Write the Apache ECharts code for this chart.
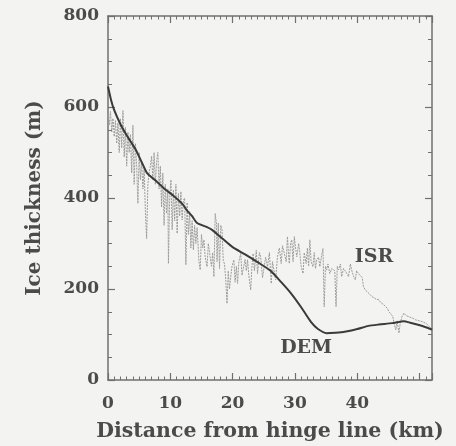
<!DOCTYPE html>
<html>
<head>
<meta charset="utf-8">
<script src="https://cdn.jsdelivr.net/npm/echarts@6/dist/echarts.min.js"></script>
<style>
  html, body { margin: 0; padding: 0; background: #f3f3f1; }
  #chart { width: 456px; height: 446px; }
</style>
</head>
<body>
<div id="chart"></div>
<script>
// Ice thickness profile along the flow line, measured from the hinge line.
const xTickValues = [0, 10, 20, 30, 40, 50];
const yTickValues = [0, 200, 400, 600, 800];

// Thickness derived from the digital elevation model [km, m]
const demProfile = [
  [0, 645], [0.5, 615], [1, 593], [2, 562], [2.9, 540], [3.5, 527], [4.5, 505],
  [5.5, 476], [6.2, 456], [6.6, 450], [7.5, 440], [9, 421], [10.5, 405],
  [12, 386], [12.6, 374], [13.5, 360], [14.3, 345], [15.9, 336], [16.7, 330],
  [17.5, 321], [18.6, 308], [20, 292], [22, 276], [24, 259], [26.1, 240],
  [27.8, 215], [29.4, 190], [31, 160], [32.6, 127], [33.7, 112], [35.1, 103],
  [36.5, 104], [38, 106], [40, 112], [41.8, 119], [43.5, 122], [45.6, 125],
  [47.5, 129], [48.5, 126], [49.9, 121], [51, 116], [52, 111]
];

// Thickness from ice-sounding radar [km, m]
const isrProfile = [
  [0.0, 585], [0.2, 560], [0.4, 590], [0.6, 545], [0.8, 575], [1.0, 535], [1.2, 570],
  [1.4, 520], [1.6, 565], [1.8, 500], [2.0, 575], [2.2, 510], [2.4, 592], [2.6, 490],
  [2.8, 555], [3.0, 470], [3.2, 545], [3.4, 500], [3.6, 540], [3.8, 455], [4.0, 560],
  [4.2, 430], [4.4, 520], [4.6, 470], [4.8, 388], [5.0, 500], [5.2, 440], [5.4, 480],
  [5.6, 420], [5.8, 465], [6.0, 370], [6.2, 311], [6.4, 430], [6.6, 455],
  [6.8, 470], [7.0, 492], [7.2, 440], [7.4, 500], [7.6, 430], [7.8, 480], [8.0, 500],
  [8.2, 420], [8.4, 470], [8.6, 380], [8.8, 455], [9.0, 340], [9.2, 430], [9.4, 366],
  [9.6, 420], [9.7, 256], [9.9, 400],
  [10.1, 440], [10.3, 330], [10.5, 418], [10.7, 350], [10.9, 430], [11.1, 322],
  [11.3, 410], [11.5, 360], [11.7, 414], [11.9, 352], [12.1, 395], [12.3, 400],
  [12.5, 253], [12.7, 390],
  [12.9, 320], [13.1, 370], [13.3, 290], [13.5, 350], [13.7, 286], [13.9, 340],
  [14.1, 300], [14.3, 335], [14.6, 260], [14.8, 242], [15.0, 320], [15.2, 290],
  [15.4, 308], [15.6, 270], [15.9, 249], [16.1, 300], [16.4, 271], [16.6, 250],
  [16.8, 280], [17.0, 227], [17.2, 366], [17.4, 345], [17.5, 260], [17.7, 345],
  [17.9, 245], [18.1, 340], [18.3, 330], [18.5, 262],
  [18.7, 255], [18.9, 220], [19.1, 168], [19.3, 240], [19.5, 200], [19.7, 227],
  [19.9, 250], [20.2, 264], [20.4, 215], [20.6, 250], [20.8, 212], [21.0, 260],
  [21.3, 278], [21.5, 230], [21.8, 227], [22.0, 265],
  [22.2, 240], [22.4, 264], [22.6, 230], [22.9, 198], [23.1, 250], [23.3, 278],
  [23.5, 240], [23.8, 285], [24.0, 234], [24.3, 280], [24.5, 271], [24.8, 225],
  [25.1, 227], [25.3, 270], [25.6, 249], [25.9, 280], [26.2, 212], [26.4, 260],
  [26.7, 256], [26.9, 220], [27.2, 271],
  [27.5, 290], [27.8, 256], [28.0, 295], [28.3, 278], [28.6, 260], [28.8, 315],
  [29.0, 270], [29.1, 256], [29.3, 300], [29.5, 308], [29.7, 260], [29.9, 315],
  [30.1, 290], [30.3, 271],
  [30.6, 300], [30.8, 278], [31.0, 250], [31.3, 234], [31.5, 280], [31.8, 256],
  [32.0, 290], [32.2, 250], [32.4, 308], [32.6, 260], [32.9, 249], [33.1, 280],
  [33.3, 245], [33.5, 264], [33.8, 270], [34.0, 249], [34.3, 275], [34.5, 289],
  [34.7, 161], [34.9, 250],
  [35.1, 242], [35.3, 255], [35.6, 234], [35.9, 245], [36.2, 249], [36.4, 240],
  [36.6, 161], [36.8, 250], [37.0, 242], [37.3, 255], [37.5, 227], [37.8, 245],
  [38.1, 249], [38.3, 235], [38.6, 227], [38.9, 255], [39.1, 242], [39.4, 228],
  [39.7, 220], [39.9, 240], [40.2, 234], [40.5, 238],
  [40.8, 225], [41.0, 205], [41.3, 198], [41.6, 200], [41.9, 190], [42.2, 188],
  [42.4, 183], [42.7, 185], [43.0, 178], [43.3, 180], [43.5, 176], [43.8, 170],
  [44.1, 168], [44.3, 165], [44.5, 161], [44.8, 158], [45.1, 150], [45.4, 147],
  [45.7, 140], [45.9, 125], [46.2, 110], [46.4, 130], [46.7, 103], [46.9, 125],
  [47.2, 140], [47.5, 147], [47.8, 142], [48.0, 145], [48.3, 139], [48.6, 140],
  [48.9, 136], [49.1, 138], [49.4, 132], [49.7, 135], [50.0, 130], [50.3, 132],
  [50.5, 128], [50.8, 126], [51.1, 124], [51.4, 120], [51.6, 117], [51.9, 115],
  [52.0, 112]
];

// Where the curve names sit, in data coordinates
const isrLabelAt = [42.7, 270];
const demLabelAt = [31.8, 70];

const FONT = 'DejaVu Serif';
const INK = '#4b4b4b';
const FRAME = '#707070';

const textStyle = { fontFamily: FONT, fontWeight: 'bold', color: INK };

function frameAxis(extra) {
  return Object.assign({
    type: 'value',
    axisLine: { show: true, onZero: false, lineStyle: { color: FRAME, width: 1.5 } },
    axisTick: { show: true, inside: true, length: 7, lineStyle: { color: FRAME, width: 1.2 } },
    minorTick: { show: true, length: 3.5, lineStyle: { color: FRAME, width: 1 } },
    splitLine: { show: false },
    minorSplitLine: { show: false }
  }, extra);
}

const chart = echarts.init(document.getElementById('chart'), null, { renderer: 'canvas' });

chart.setOption({
  backgroundColor: '#f3f3f1',
  animation: false,
  grid: { left: 108, right: 24, top: 16, bottom: 66, outerBoundsMode: 'none' },
  xAxis: [
    frameAxis({
      position: 'bottom', min: 0, max: 52, interval: 10,
      minorTick: { show: true, splitNumber: 10, length: 3.5, lineStyle: { color: FRAME, width: 1 } },
      axisLabel: Object.assign({ fontSize: 17, margin: 15, showMaxLabel: false,
        customValues: xTickValues }, textStyle),
      name: 'Distance from hinge line (km)',
      nameLocation: 'middle', nameGap: 41,
      nameTextStyle: Object.assign({ fontSize: 20.5 }, textStyle)
    }),
    frameAxis({
      position: 'top', min: 0, max: 52, interval: 10,
      minorTick: { show: true, splitNumber: 10, length: 3.5, lineStyle: { color: FRAME, width: 1 } },
      axisLabel: { show: false }
    })
  ],
  yAxis: [
    frameAxis({
      position: 'left', min: 0, max: 800, interval: 200,
      minorTick: { show: true, splitNumber: 4, length: 4, lineStyle: { color: FRAME, width: 1 } },
      axisLabel: Object.assign({ fontSize: 17, margin: 9, customValues: yTickValues }, textStyle),
      name: 'Ice thickness (m)',
      nameLocation: 'middle', nameGap: 63, nameRotate: 90,
      nameTextStyle: Object.assign({ fontSize: 20 }, textStyle)
    }),
    frameAxis({
      position: 'right', min: 0, max: 800, interval: 200,
      minorTick: { show: true, splitNumber: 4, length: 4, lineStyle: { color: FRAME, width: 1 } },
      axisLabel: { show: false }
    })
  ],
  series: [
    {
      name: 'ISR',
      type: 'line',
      data: isrProfile,
      showSymbol: false,
      symbol: 'none',
      lineStyle: { color: '#9c9c9c', width: 1, type: [2, 1] },
      z: 2,
      markPoint: {
        symbol: 'circle', symbolSize: 0,
        label: Object.assign({ show: true, position: 'inside', fontSize: 19, formatter: 'ISR' }, textStyle),
        data: [{ coord: isrLabelAt }]
      }
    },
    {
      name: 'DEM',
      type: 'line',
      data: demProfile,
      showSymbol: false,
      symbol: 'none',
      smooth: 0.2,
      lineStyle: { color: '#3a3a3a', width: 2 },
      z: 3,
      markPoint: {
        symbol: 'circle', symbolSize: 0,
        label: Object.assign({ show: true, position: 'inside', fontSize: 19, formatter: 'DEM' }, textStyle),
        data: [{ coord: demLabelAt }]
      }
    }
  ]
});
</script>
</body>
</html>
